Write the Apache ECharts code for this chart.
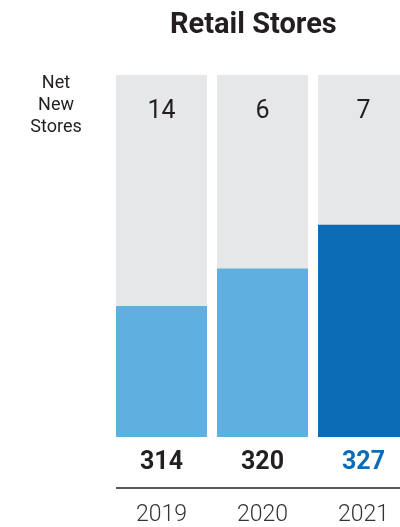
<!DOCTYPE html>
<html>
<head>
<meta charset="utf-8">
<script src="https://cdn.jsdelivr.net/npm/echarts@6/dist/echarts.min.js"></script>
<style>
  html, body { margin: 0; padding: 0; background: #fff; overflow: hidden; }
  /* the last bar runs off the right edge of the page */
  #chart { width: 414px; height: 527px; }
</style>
</head>
<body>
<div id="chart"></div>
<script>
// Store counts per fiscal year
const years = ['2019', '2020', '2021'];
const totalStores = [314, 320, 327];
const netNewStores = [14, 6, 7];

const FONT = 'Roboto, "Noto Sans", sans-serif';
const LIGHT_BLUE = '#5fb0e0';
const DARK_BLUE = '#0d6cb6';
const INK = '#231f20';

const chart = echarts.init(document.getElementById('chart'), null, { renderer: 'canvas' });

const barData = totalStores.map((v, i) => {
  const latest = i === totalStores.length - 1;
  return {
    value: v,
    itemStyle: { color: latest ? DARK_BLUE : LIGHT_BLUE },
    label: { color: latest ? DARK_BLUE : INK }
  };
});

chart.setOption({
  animation: false,
  title: {
    text: 'Retail Stores',
    left: 170,
    top: 11,
    padding: 0,
    textStyle: { fontFamily: FONT, fontSize: 29, fontWeight: 'bold', color: INK }
  },
  grid: { left: 111, top: 75, right: 0, height: 362 },
  xAxis: [
    {
      type: 'category',
      data: years,
      axisLine: { show: false },
      axisTick: { show: false },
      axisLabel: {
        margin: 67,
        fontFamily: FONT,
        fontSize: 23,
        fontWeight: 300,
        color: '#333'
      }
    },
    {
      type: 'category',
      position: 'top',
      z: 10,
      data: netNewStores.map(String),
      axisLine: { show: false },
      axisTick: { show: false },
      axisLabel: {
        inside: true,
        margin: 24,
        fontFamily: FONT,
        fontSize: 25,
        color: INK
      }
    }
  ],
  yAxis: { type: 'value', min: 293, max: 351, show: false },
  series: [
    {
      type: 'bar',
      xAxisIndex: 0,
      data: barData,
      barWidth: 91,
      showBackground: true,
      backgroundStyle: { color: '#e6e7e8' },
      label: {
        show: true,
        position: 'bottom',
        distance: 13,
        fontFamily: FONT,
        fontSize: 25,
        fontWeight: 'bold'
      }
    }
  ],
  graphic: [
    {
      type: 'text',
      x: 56,
      y: 72,
      style: {
        text: 'Net\nNew\nStores',
        align: 'center',
        fontFamily: FONT,
        fontSize: 18,
        lineHeight: 22,
        fill: INK
      }
    },
    {
      type: 'line',
      shape: { x1: 116, y1: 488, x2: 400, y2: 488 },
      style: { stroke: '#58595b', lineWidth: 2 }
    }
  ]
});
</script>
</body>
</html>
